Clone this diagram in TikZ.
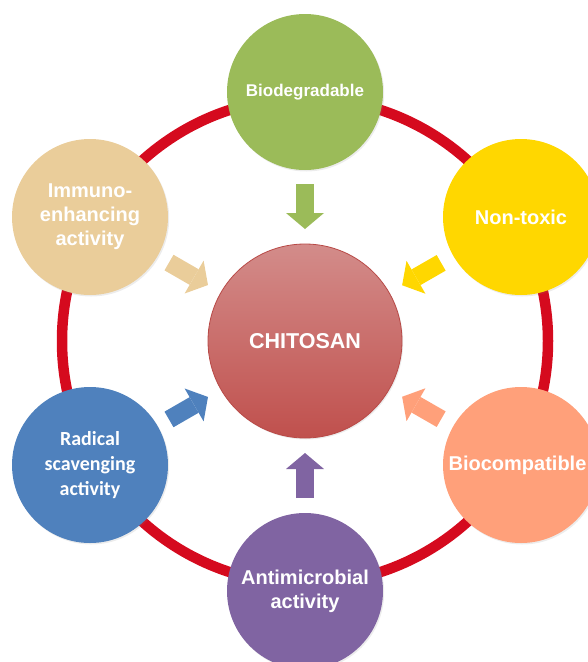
\documentclass[tikz,border=0pt]{standalone}
\usepackage{fontspec}
\setmainfont{Liberation Sans}
\newfontfamily\calibfont{Carlito}
\usetikzlibrary{calc,arrows.meta,shadows}

\definecolor{ringred}{RGB}{213,10,30}
\definecolor{biogreen}{RGB}{155,187,89}
\definecolor{immunotan}{RGB}{234,205,154}
\definecolor{toxyellow}{RGB}{255,215,0}
\definecolor{radblue}{RGB}{79,129,189}
\definecolor{compsalmon}{RGB}{255,160,122}
\definecolor{micropurple}{RGB}{128,100,162}
\definecolor{chitotop}{RGB}{211,140,138}
\definecolor{chitobot}{RGB}{192,80,77}
\definecolor{chitoline}{RGB}{184,74,71}

\begin{document}
\begin{tikzpicture}[x=1pt, y=-1pt,
        prop/.style={circle, minimum size=156pt, inner sep=0pt, text=white, align=center,
            font=\bfseries\fontsize{20}{24}\selectfont,
            drop shadow={shadow xshift=1.2pt, shadow yshift=-1.5pt, opacity=.15}},
        feed/.style={line width=18pt, -{Triangle[width=38pt,length=16pt,line width=0pt]}}]
    \useasboundingbox (0,0) rectangle (588,662);
    % red ring behind the properties
    \draw[ringred, line width=10.5pt] (305,341) circle [radius=243pt];
    % properties
    \node[prop, fill=biogreen, font=\bfseries\fontsize{17}{20}\selectfont] (bio) at (305,92) {Biodegradable};
    \node[prop, fill=immunotan] (immuno) at (90,217) {Immuno-\\enhancing\\activity};
    \node[prop, fill=toxyellow] (nontox) at (521,217) {Non-toxic};
    \node[prop, fill=radblue, font=\calibfont\bfseries\fontsize{20}{25}\selectfont] (radical) at (90,465) {Radical\\scavenging\\activity};
    \node[prop, fill=compsalmon] (biocomp) at (521,465) {\hspace*{-7pt}Biocompatible};
    \node[prop, fill=micropurple] (micro) at (305,591) {Antimicrobial\\activity};
    % centre
    \node[circle, minimum size=194pt, inner sep=0pt, top color=chitotop, bottom color=chitobot,
        draw=chitoline, line width=.8pt, text=white, font=\bfseries\fontsize{21.5}{24}\selectfont,
        drop shadow={shadow xshift=1.2pt, shadow yshift=-1.5pt, opacity=.15}]
        (chitosan) at (305,341) {CHITOSAN};
    % arrows into the centre
    \foreach \n/\c in {bio/biogreen, immuno/immunotan, nontox/toxyellow,
                       radical/radblue, biocomp/compsalmon, micro/micropurple}
        {
            \draw[feed, draw=\c] ($(chitosan.center)!157pt!(\n.center)$) -- ($(chitosan.center)!112pt!(\n.center)$);
        }
\end{tikzpicture}
\end{document}
